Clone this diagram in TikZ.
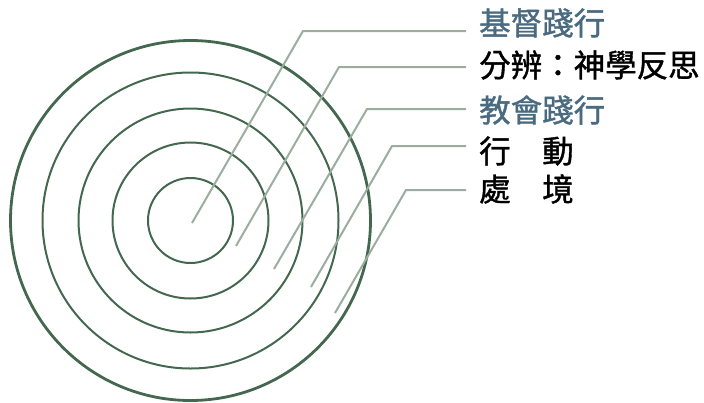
\documentclass[tikz,border=0pt]{standalone}
\usepackage{fontspec}
\usepackage{tikz}
\usetikzlibrary{calc}
\newfontfamily\cjk[FakeBold=1.2]{Noto Sans CJK TC}
\definecolor{ringgreen}{HTML}{44684F}
\definecolor{leadgray}{HTML}{9BAD9E}
\definecolor{labelblue}{HTML}{4A6A80}

\begin{document}
\begin{tikzpicture}[x=1pt,y=-1pt,
	ring/.style={ringgreen,line width=2pt},
	leader/.style={leadgray,line width=2pt},
	lbl/.style={anchor=west,inner xsep=13pt,inner ysep=0pt,font=\cjk\fontsize{31.5}{31.5}\selectfont}]

	\useasboundingbox (0,0) rectangle (704,402);

	\coordinate (o) at (190.5,220.5); %centre
	\draw[ring,line width=2.8pt] (o) circle[radius=180];
	\draw[ring] (o) circle[radius=148];
	\draw[ring] (o) circle[radius=112];
	\draw[ring] (o) circle[radius=78];
	\draw[ring] (o) circle[radius=42.5];

	\node[lbl,text=labelblue] (t1) at (466,23) {基督踐行};
	\node[lbl] (t2) at (466,65) {分辨：神學反思};
	\node[lbl,text=labelblue] (t3) at (466,110) {教會踐行};
	\node[lbl] (t4) at (466,151) {行　動};
	\node[lbl] (t5) at (466,189) {處　境};

	\coordinate (s1) at (192,223);
	\coordinate (e1) at (303,31);
	\coordinate (s2) at (236,246);
	\coordinate (e2) at (339,67);
	\coordinate (s3) at (274,269);
	\coordinate (e3) at (367,109);
	\coordinate (s4) at (311,287);
	\coordinate (e4) at (392,146);
	\coordinate (s5) at (335,313);
	\coordinate (e5) at (406,190);

	\draw[leader] (s1) -- (e1) -- (e1 -| t1.west);
	\draw[leader] (s2) -- (e2) -- (e2 -| t2.west);
	\draw[leader] (s3) -- (e3) -- (e3 -| t3.west);
	\draw[leader] (s4) -- (e4) -- (e4 -| t4.west);
	\draw[leader] (s5) -- (e5) -- (e5 -| t5.west);

\end{tikzpicture}
\end{document}
